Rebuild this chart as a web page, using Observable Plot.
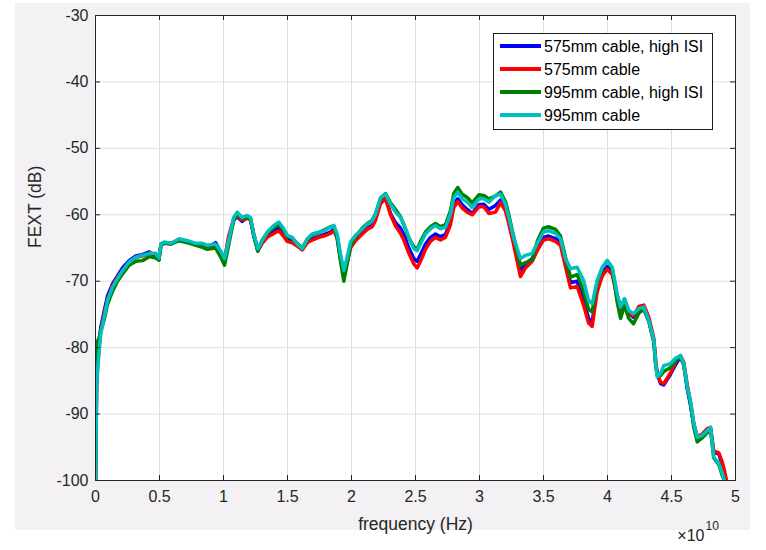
<!DOCTYPE html>
<html><head><meta charset="utf-8">
<script src="https://cdn.jsdelivr.net/npm/d3@7"></script>
<script src="https://cdn.jsdelivr.net/npm/@observablehq/plot@0.6"></script>
<style>
html,body{margin:0;padding:0;background:#fff;}
body{width:766px;height:550px;position:relative;overflow:hidden;font-family:"Liberation Sans",Arial,sans-serif;}
#fig{position:absolute;left:15px;top:3px;width:735px;height:527px;background:#f3f1f3;}
#fig svg{display:block;}
#legend{position:absolute;left:493px;top:33px;width:218px;height:95px;border:1px solid #1a1a1a;background:#fff;}
.row{position:absolute;left:6px;height:20px;display:flex;align-items:center;white-space:nowrap;}
.sw{width:41px;height:4px;margin-right:3px;}
.row span.t{font-size:16px;color:#000;line-height:20px;position:relative;top:1px;}
</style></head>
<body><div id="fig"></div><div id="legend"></div>
<script>
// frequency, in units of 1e10 Hz
const freqE10 = [0,0.005,0.01,0.016,0.029,0.041,0.068,0.094,0.133,0.172,0.211,0.263,0.315,0.367,0.42,0.471,0.495,0.512,0.537,0.588,0.654,0.719,0.784,0.836,0.873,0.938,0.977,1.008,1.041,1.08,1.107,1.146,1.185,1.211,1.237,1.268,1.302,1.341,1.393,1.432,1.471,1.498,1.537,1.576,1.615,1.654,1.693,1.745,1.784,1.836,1.862,1.888,1.914,1.94,1.966,1.992,2.031,2.084,2.123,2.162,2.188,2.227,2.266,2.305,2.344,2.383,2.409,2.448,2.487,2.513,2.539,2.578,2.617,2.656,2.695,2.734,2.773,2.799,2.83,2.865,2.904,2.943,2.995,3.034,3.073,3.125,3.164,3.203,3.229,3.266,3.32,3.359,3.412,3.451,3.5,3.539,3.594,3.633,3.672,3.711,3.763,3.813,3.852,3.88,3.919,3.959,3.998,4.037,4.076,4.102,4.133,4.166,4.203,4.245,4.284,4.323,4.362,4.375,4.388,4.414,4.44,4.492,4.531,4.57,4.596,4.623,4.648,4.674,4.701,4.74,4.779,4.805,4.83,4.869,4.896,4.914,4.93];

// FEXT (dB)
const fext575HighISI = [-100,-88,-83,-80,-79,-77,-74.5,-72.2,-70.4,-69.2,
-68.0,-66.9,-66.2,-66.0,-65.6,-66.2,-66.8,-64.5,-64.2,-64.3,
-63.8,-64.1,-64.5,-64.8,-65.0,-64.2,-65.6,-66.9,-63.5,-60.8,
-60.3,-61.0,-60.4,-60.7,-63.2,-65.3,-64.2,-63.2,-62.5,-62.0,
-63.0,-63.7,-64.0,-64.6,-65.2,-64.0,-63.6,-63.3,-63.0,-62.6,
-62.2,-63.2,-66.5,-69.0,-67.0,-64.8,-63.7,-62.7,-62.0,-61.6,
-60.5,-58.0,-57.4,-59.8,-61.2,-62.0,-63.0,-65.0,-66.6,-67.0,
-66.0,-64.4,-63.4,-62.9,-63.3,-63.0,-61.0,-58.4,-57.6,-58.5,
-59.2,-59.8,-58.5,-58.4,-59.2,-58.6,-57.8,-59.0,-61.0,-64.0,
-68.4,-67.4,-66.6,-65.0,-63.4,-63.2,-63.6,-64.2,-67.4,-70.2,
-70.0,-72.8,-75.6,-76.2,-71.0,-68.8,-67.8,-68.6,-72.2,-74.0,
-72.8,-74.8,-75.4,-74.0,-74.2,-76.0,-79.0,-82.0,-84.0,-85.4,
-85.6,-84.0,-82.6,-81.4,-82.6,-86.2,-88.6,-91.6,-93.6,-93.4,
-92.4,-92.2,-95.8,-96.0,-97.6,-100,null];

const fext575 = [-100,-91.5,-86,-83,-79.5,-77.5,-75,-72.8,-70.7,-69.4,
-68.4,-67.2,-66.4,-66.2,-65.8,-66.0,-66.6,-64.4,-64.2,-64.4,
-63.8,-64.0,-64.5,-64.8,-65.0,-64.8,-65.8,-66.8,-63.2,-60.6,
-60.2,-60.8,-60.5,-60.8,-63.0,-65.4,-64.3,-63.4,-62.8,-62.4,
-63.3,-64.0,-64.2,-64.7,-65.3,-64.2,-63.8,-63.4,-63.2,-62.8,
-62.4,-63.5,-66.6,-69.0,-67.2,-65.0,-63.9,-62.9,-62.2,-61.8,
-60.8,-58.3,-57.6,-60.0,-61.7,-62.8,-63.8,-65.8,-67.4,-68.0,
-67.0,-65.2,-64.0,-63.4,-63.8,-63.4,-61.5,-58.9,-58.0,-59.0,
-59.6,-60.0,-58.8,-58.8,-59.8,-59.6,-58.2,-59.4,-61.4,-64.4,
-69.3,-68.0,-67.0,-65.4,-63.8,-63.6,-64.0,-64.6,-67.8,-71.0,
-70.8,-73.6,-76.3,-76.8,-71.6,-69.2,-68.2,-69.0,-72.4,-74.2,
-72.8,-74.8,-75.2,-73.8,-73.6,-75.4,-78.6,-81.6,-83.8,-85.2,
-85.4,-83.8,-82.2,-81.2,-82.2,-85.6,-88.2,-91.4,-93.4,-93.0,
-92.2,-92.0,-95.6,-95.8,-97.2,-98.5,-100];

const fext995HighISI = [-100,-86,-80,-79,-78.5,-77.5,-75.8,-73.5,-71.5,-70.0,
-68.9,-67.6,-67.0,-66.9,-66.3,-66.5,-66.8,-64.5,-64.3,-64.4,
-63.9,-64.2,-64.6,-64.9,-65.2,-65.0,-66.3,-67.6,-64.5,-60.8,
-59.9,-60.6,-60.3,-60.6,-63.2,-65.5,-63.8,-62.8,-61.9,-61.5,
-62.4,-63.3,-63.5,-64.3,-65.0,-63.7,-63.0,-62.7,-62.3,-61.8,
-61.7,-63.5,-67.0,-70.0,-67.4,-64.6,-63.3,-62.0,-61.3,-60.8,
-59.8,-57.5,-56.8,-58.2,-59.2,-60.3,-61.5,-63.5,-64.8,-65.2,
-64.0,-62.6,-61.8,-61.3,-61.8,-61.5,-59.4,-56.8,-55.9,-56.9,
-57.4,-58.2,-57.0,-57.1,-57.6,-57.2,-56.6,-58.0,-60.0,-63.2,
-67.6,-67.2,-66.8,-64.0,-62.0,-61.8,-62.2,-63.2,-66.4,-69.4,
-69.0,-71.5,-74.2,-74.6,-70.2,-68.0,-66.9,-68.0,-73.2,-75.6,
-73.6,-75.6,-76.4,-74.8,-74.2,-76.0,-79.2,-82.4,-84.0,-84.2,
-83.6,-83.0,-82.0,-81.4,-82.6,-86.0,-88.4,-92.0,-94.2,-93.6,
-92.8,-92.4,-96.6,-97.6,-99.2,-100,null];

const fext995 = [-100,-93,-86,-83.5,-80.5,-77.9,-75.4,-72.9,-70.9,-69.6,
-68.4,-67.1,-66.4,-66.1,-65.8,-65.8,-66.5,-64.4,-64.1,-64.3,
-63.6,-63.9,-64.3,-64.3,-64.6,-64.4,-65.4,-66.6,-63.9,-60.4,
-59.6,-60.4,-60.1,-60.4,-62.9,-65.1,-63.9,-62.6,-61.6,-61.1,
-62.1,-63.1,-63.4,-64.4,-65.1,-63.6,-62.9,-62.6,-62.4,-61.9,
-61.6,-62.9,-65.9,-68.4,-66.4,-64.1,-63.1,-62.1,-61.4,-60.9,
-59.9,-57.4,-56.9,-58.4,-59.6,-60.4,-61.4,-63.4,-65.1,-65.4,
-64.4,-62.9,-62.1,-61.6,-62.1,-61.9,-59.9,-57.4,-56.6,-57.6,
-58.1,-58.9,-57.6,-57.6,-58.1,-57.1,-56.9,-58.4,-60.4,-63.4,
-66.6,-66.1,-65.8,-64.3,-62.6,-62.4,-62.8,-63.6,-66.6,-68.1,
-67.9,-69.9,-72.9,-73.4,-69.9,-67.9,-66.9,-67.9,-71.9,-73.9,
-72.6,-74.4,-74.9,-74.1,-73.9,-75.9,-78.9,-81.9,-84.4,-83.9,
-82.7,-82.4,-81.6,-81.2,-82.4,-85.9,-88.0,-91.4,-93.5,-93.2,
-92.5,-92.0,-96.5,-97.4,-98.9,-100,null];

const seriesNames = ["575mm cable, high ISI","575mm cable","995mm cable, high ISI","995mm cable"];
const seriesColors = ["#0000ff","#ff0000","#008000","#00bfbf"];
const seriesValues = [fext575HighISI, fext575, fext995HighISI, fext995];

const xTickValues = [0,0.5,1,1.5,2,2.5,3,3.5,4,4.5,5];
const yTickValues = [-100,-90,-80,-70,-60,-50,-40,-30];

const xTicks = xTickValues.map(d => d * 1e10);

const W = 735, H = 527;
const mL = 80, mR = 15, mT = 12, mB = 50;
const fw = W - mL - mR, fh = H - mT - mB;
const tickLen = 5;
const ink = "#262626";

const lineMarks = seriesNames.map((name, k) => {
  const rows = freqE10.map((f, i) => ({f: f * 1e10, v: seriesValues[k][i]}))
    .filter(d => d.v != null);
  return Plot.line(rows, {x: "f", y: "v", stroke: seriesColors[k], strokeWidth: 3.5, clip: true});
});

const chart = Plot.plot({
  width: W, height: H,
  marginLeft: mL, marginRight: mR, marginTop: mT, marginBottom: mB,
  style: {background: "transparent", fontFamily: "'Liberation Sans', Arial, sans-serif", fontSize: "16px", color: ink, overflow: "visible"},
  x: {type: "linear", domain: [0, 5e10]},
  y: {type: "linear", domain: [-100, -30]},
  marks: [
    Plot.frame({fill: "white", stroke: null}),
    Plot.gridX(xTicks, {stroke: "#dedede", strokeOpacity: 1, strokeWidth: 1}),
    Plot.gridY(yTickValues, {stroke: "#dedede", strokeOpacity: 1, strokeWidth: 1}),
    ...lineMarks,
    Plot.ruleX(xTicks, {stroke: ink, insetTop: fh - tickLen}),
    Plot.ruleX(xTicks, {stroke: ink, insetBottom: fh - tickLen}),
    Plot.ruleY(yTickValues, {stroke: ink, insetRight: fw - tickLen}),
    Plot.ruleY(yTickValues, {stroke: ink, insetLeft: fw - tickLen}),
    Plot.frame({stroke: ink, strokeWidth: 1}),
    Plot.axisX(xTicks, {tickSize: 0, tickPadding: 10, label: null, fontSize: 16, fill: ink,
      tickFormat: d => String(+(d / 1e10).toFixed(1))}),
    Plot.axisY(yTickValues, {tickSize: 0, tickPadding: 7, label: null, fontSize: 16, fill: ink,
      tickFormat: d => String(d)}),
    Plot.text(["frequency (Hz)"], {text: d => d, frameAnchor: "bottom", dy: 44, lineAnchor: "middle", fontSize: 17.5, fill: ink}),
    Plot.text(["FEXT (dB)"], {text: d => d, frameAnchor: "left", dx: -60, rotate: -90, lineAnchor: "middle", fontSize: 17.5, fill: ink}),
    Plot.text(["\u00d710"], {text: d => d, frameAnchor: "bottom-right", textAnchor: "end", dx: -31, dy: 55, lineAnchor: "middle", fontSize: 16, fill: ink}),
    Plot.text(["10"], {text: d => d, frameAnchor: "bottom-right", textAnchor: "start", dx: -30, dy: 46, lineAnchor: "middle", fontSize: 12, fill: ink})
  ]
});
document.getElementById("fig").appendChild(chart);

// legend
const legend = document.getElementById("legend");
const rowTops = [2, 25, 48, 71];
seriesNames.forEach((name, k) => {
  const row = document.createElement("div");
  row.className = "row";
  row.style.top = rowTops[k] + "px";
  const sw = document.createElement("span");
  sw.className = "sw";
  sw.style.background = seriesColors[k];
  const t = document.createElement("span");
  t.className = "t";
  t.textContent = name;
  row.appendChild(sw); row.appendChild(t);
  legend.appendChild(row);
});
</script>
</body></html>
